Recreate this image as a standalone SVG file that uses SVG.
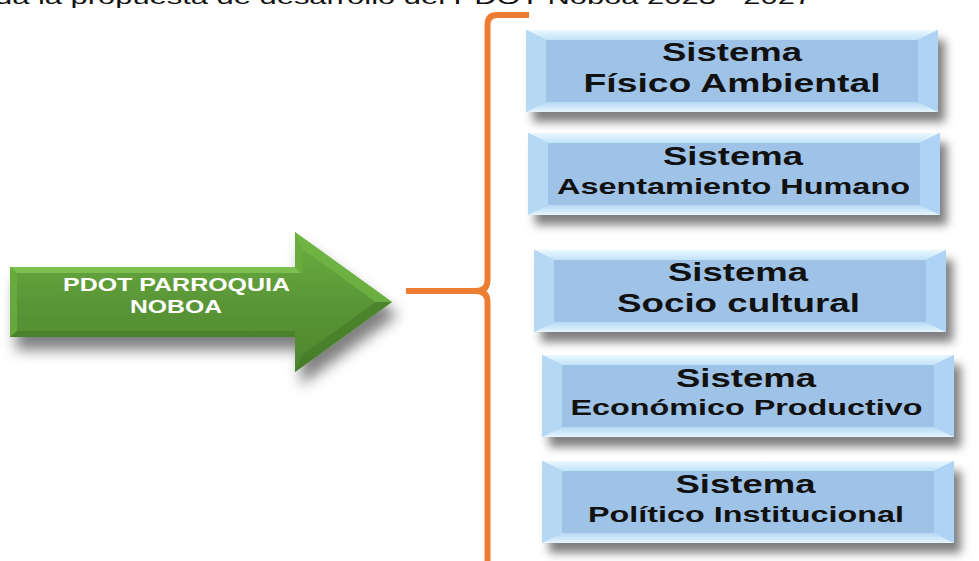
<svg xmlns="http://www.w3.org/2000/svg" width="979" height="561" viewBox="0 0 979 561">
  <style>
    .bt { font-family: "Liberation Sans", Arial, sans-serif; font-weight: bold; fill: #111; text-anchor: middle; }
    .t1 { font-size: 25px; }
    .t2 { font-size: 22px; }
    .at { font-family: "Liberation Sans", Arial, sans-serif; font-weight: bold; fill: #fff; text-anchor: middle; font-size: 19px; }
    .cap { font-family: "Liberation Sans", Arial, sans-serif; font-size: 21px; fill: #111; }
    .brace { fill: none; stroke: #ED7D31; stroke-width: 6; stroke-linejoin: round; }
  </style>
  <defs>
    <filter id="sh" x="-10%" y="-20%" width="130%" height="160%">
      <feDropShadow dx="7" dy="10" stdDeviation="5" flood-color="#000" flood-opacity="0.5"/>
    </filter>
    <filter id="shA" x="-10%" y="-20%" width="130%" height="160%">
      <feDropShadow dx="6" dy="13" stdDeviation="7" flood-color="#000" flood-opacity="0.5"/>
    </filter>
    <linearGradient id="gTop" x1="0" y1="0" x2="0" y2="1">
      <stop offset="0" stop-color="#eaf8ff"/>
      <stop offset="1" stop-color="#c2e2f8"/>
    </linearGradient>
    <linearGradient id="gBot" x1="0" y1="0" x2="0" y2="1">
      <stop offset="0" stop-color="#b6d9f4"/>
      <stop offset="1" stop-color="#e6f5fd"/>
    </linearGradient>
    <linearGradient id="gGreen" x1="0" y1="0" x2="0" y2="1">
      <stop offset="0" stop-color="#6cb040"/>
      <stop offset="0.5" stop-color="#5a9637"/>
      <stop offset="1" stop-color="#4d862e"/>
    </linearGradient>
    <g id="box">
      <rect x="0" y="0" width="412" height="82" fill="#9fc3e7"/>
      <polygon points="0,0 412,0 392,10 20,10" fill="url(#gTop)"/>
      <polygon points="0,0 20,10 20,72 0,82" fill="#b5d8f5"/>
      <polygon points="412,0 412,82 392,72 392,10" fill="#aed3f5"/>
      <polygon points="0,82 20,72 392,72 412,82" fill="url(#gBot)"/>
    </g>
  </defs>

  <rect width="979" height="561" fill="#fff"/>

  <text class="cap" x="-5" y="4" textLength="817" lengthAdjust="spacingAndGlyphs">da la propuesta de desarrollo del PDOT Noboa 2023 - 2027</text>

  <g id="arrow">
    <polygon points="10,267 295,267 295,232 392,302 295,372 295,337 10,337" fill="url(#gGreen)" filter="url(#shA)"/>
    <polygon points="10,267 295,267 301,273 17,273" fill="#8fd160" opacity="0.6"/>
    <polygon points="10,267 17,273 17,331 10,337" fill="#6aae3e" opacity="0.8"/>
    <polygon points="10,337 17,331 295,331 295,337" fill="#3f7424" opacity="0.5"/>
    <polygon points="295,232 392,302 376,302 302,249" fill="#72b846" opacity="0.7"/>
    <polygon points="295,372 392,302 376,302 302,355" fill="#3f7424" opacity="0.5"/>
    <polygon points="295,232 302,249 302,273 295,267" fill="#6aae3e" opacity="0.8"/>
    <text class="at" x="176.5" y="291" textLength="227" lengthAdjust="spacingAndGlyphs">PDOT PARROQUIA</text>
    <text class="at" x="176" y="313" textLength="92" lengthAdjust="spacingAndGlyphs">NOBOA</text>
  </g>

  <g id="connectors">
    <path class="brace" d="M529,15 H497 Q487.5,15 487.5,25 V280 Q487.5,291 476,291 H406 M476,291 Q487.5,291 487.5,302 V565"/>
  </g>

  <g id="sistema-fisico">
    <use href="#box" x="526" y="30" filter="url(#sh)"/>
    <text class="bt t1" x="732" y="61" textLength="140" lengthAdjust="spacingAndGlyphs">Sistema</text>
    <text class="bt t1" x="732" y="92" textLength="297" lengthAdjust="spacingAndGlyphs">Físico Ambiental</text>
  </g>
  <g id="sistema-asentamiento">
    <use href="#box" x="528" y="133" filter="url(#sh)"/>
    <text class="bt t1" x="733" y="165" textLength="140" lengthAdjust="spacingAndGlyphs">Sistema</text>
    <text class="bt t2" x="733.5" y="194" textLength="353" lengthAdjust="spacingAndGlyphs">Asentamiento Humano</text>
  </g>
  <g id="sistema-socio">
    <use href="#box" x="534" y="250" filter="url(#sh)"/>
    <text class="bt t1" x="738" y="281" textLength="140" lengthAdjust="spacingAndGlyphs">Sistema</text>
    <text class="bt t1" x="738.5" y="312" textLength="243" lengthAdjust="spacingAndGlyphs">Socio cultural</text>
  </g>
  <g id="sistema-economico">
    <use href="#box" x="542" y="355" filter="url(#sh)"/>
    <text class="bt t1" x="746" y="387" textLength="140" lengthAdjust="spacingAndGlyphs">Sistema</text>
    <text class="bt t2" x="746.5" y="415" textLength="352" lengthAdjust="spacingAndGlyphs">Económico Productivo</text>
  </g>
  <g id="sistema-politico">
    <use href="#box" x="542" y="461" filter="url(#sh)"/>
    <text class="bt t1" x="745.5" y="493" textLength="140" lengthAdjust="spacingAndGlyphs">Sistema</text>
    <text class="bt t2" x="746" y="522" textLength="316" lengthAdjust="spacingAndGlyphs">Político Institucional</text>
  </g>
</svg>
